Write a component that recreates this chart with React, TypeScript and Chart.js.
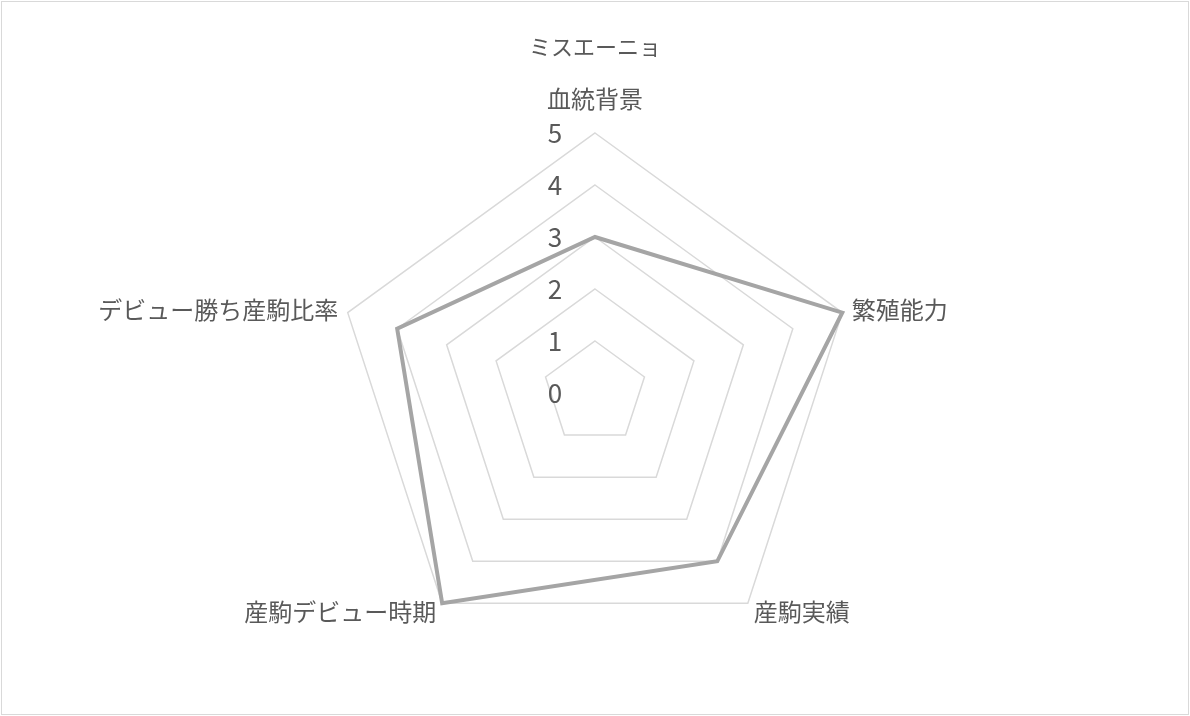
import React, { useEffect, useRef } from 'react';
import Chart from 'chart.js/auto';

const title = 'ミスエーニョ';
const axisLabels = ['血統背景', '繁殖能力', '産駒実績', '産駒デビュー時期', 'デビュー勝ち産駒比率'];
const scores = [3, 5, 4, 5, 4];
const tickValues = [0, 1, 2, 3, 4, 5];

const FONT = "'Noto Sans CJK JP', 'Noto Sans', sans-serif";
const TEXT = '#595959';

// draws the radial tick numbers a bit left of the vertical axis, like Excel does
const tickLabelPlugin = {
  id: 'tickLabels',
  afterDraw(chart: any) {
    const scale = chart.scales.r;
    const ctx = chart.ctx;
    ctx.save();
    ctx.font = `26px ${FONT}`;
    ctx.fillStyle = TEXT;
    ctx.textAlign = 'center';
    ctx.textBaseline = 'middle';
    tickValues.forEach((v) => {
      const d = scale.getDistanceFromCenterForValue(v);
      ctx.fillText(String(v), scale.xCenter - 40, scale.yCenter - d);
    });
    ctx.restore();
  },
};

const App = () => {
  const chartRef = useRef<HTMLCanvasElement>(null);
  const chartInstanceRef = useRef<Chart<'radar', number[], string> | null>(null);

  useEffect(() => {
    document.body.style.margin = '0';
    const ctx = chartRef.current?.getContext('2d');
    if (chartInstanceRef.current) {
      chartInstanceRef.current.destroy();
    }
    if (ctx) {
      chartInstanceRef.current = new Chart(ctx, {
        type: 'radar',
        data: {
          labels: axisLabels,
          datasets: [{
            label: title,
            data: scores,
            borderColor: '#a5a5a5',
            borderWidth: 4,
            fill: false,
            pointRadius: 0,
            pointHoverRadius: 0,
          }],
        },
        options: {
          responsive: true,
          maintainAspectRatio: false,
          animation: false,
          layout: { padding: { top: 0, bottom: 46, left: 0, right: 0 } },
          plugins: {
            legend: { display: false },
            tooltip: { enabled: false },
            title: {
              display: true,
              text: title,
              color: TEXT,
              font: { family: FONT, size: 22, weight: 'normal' },
              padding: { top: 33.8, bottom: 21.8 },
            },
          },
          scales: {
            r: {
              min: 0,
              max: 5,
              beginAtZero: true,
              ticks: { display: false, stepSize: 1 },
              angleLines: { display: false },
              grid: { color: '#d9d9d9', lineWidth: 1.5 },
              pointLabels: {
                color: TEXT,
                font: { family: FONT, size: 24, lineHeight: 0 },
                padding: (c: any) => (c.index === 0 ? 34 : 10),
              },
            },
          },
        },
        plugins: [tickLabelPlugin],
      });
    }
    return () => {
      if (chartInstanceRef.current) {
        chartInstanceRef.current.destroy();
        chartInstanceRef.current = null;
      }
    };
  }, []);

  return (
    <div style={{ position: 'relative', width: '1190px', height: '716px', background: '#fff' }}>
      <canvas ref={chartRef} />
      <div
        style={{
          position: 'absolute', left: 1, top: 1, width: 1188, height: 714,
          boxSizing: 'border-box', border: '1px solid #d9d9d9', pointerEvents: 'none',
        }}
      />
    </div>
  );
};

export default App;
